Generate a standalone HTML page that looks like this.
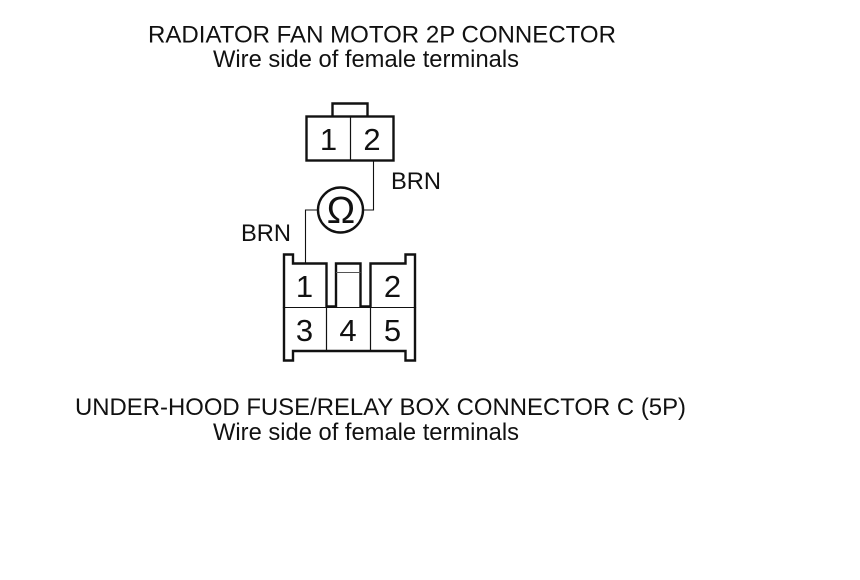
<!DOCTYPE html>
<html>
<head>
<meta charset="utf-8">
<style>
html,body{margin:0;padding:0;background:#fff;width:860px;height:580px;overflow:hidden}
svg{display:block}
text{font-family:"Liberation Sans",Arial,sans-serif;fill:#111}
</style>
</head>
<body>
<svg width="860" height="580" viewBox="0 0 860 580" xmlns="http://www.w3.org/2000/svg">
<rect width="860" height="580" fill="#fff"/>
<text x="148" y="42.600" font-size="24" textLength="468" lengthAdjust="spacingAndGlyphs">RADIATOR FAN MOTOR 2P CONNECTOR</text>
<text x="213" y="67" font-size="24" textLength="306" lengthAdjust="spacingAndGlyphs">Wire side of female terminals</text>
<text x="75" y="415" font-size="24" textLength="611" lengthAdjust="spacingAndGlyphs">UNDER-HOOD FUSE/RELAY BOX CONNECTOR C (5P)</text>
<text x="213" y="440" font-size="24" textLength="306" lengthAdjust="spacingAndGlyphs">Wire side of female terminals</text>

<g fill="none" stroke="#111">
<!-- top connector -->
<rect x="306.500" y="116.500" width="87" height="44" stroke-width="2.400"/>
<path d="M332.500 116V103.500H367.500V116" stroke-width="2.400"/>
<path d="M350.500 116V160" stroke-width="1.200"/>
<!-- wires -->
<path d="M373.500 161V210H362" stroke-width="1.100"/>
<path d="M318 210H305.500V264" stroke-width="1.100"/>
<circle cx="340.500" cy="210" r="22.500" stroke-width="2.400"/>
<!-- bottom connector -->
<path d="M284 307.500V254.500H293V263.500H326.500V307.500" stroke-width="2.400"/>
<path d="M415 307.500V254.500H405.500V263.500H370.500V307.500" stroke-width="2.400"/>
<path d="M284 307V360.500H293V351H405.500V360.500H415V307" stroke-width="2.400"/>
<path d="M284 307.500H415" stroke-width="1.100"/>
<path d="M326.500 307V351M370.500 307V351" stroke-width="1.200"/>
<path d="M336 307V263.500H360.500V307" stroke-width="2.400"/>
<path d="M336 272.500H360.500" stroke-width="1.100" stroke="#555"/>
<path d="M326.500 306.500H336M360.500 306.500H370.500" stroke-width="2.400"/>
</g>

<g font-size="31" text-anchor="middle">
<text x="328.500" y="150">1</text>
<text x="372" y="150">2</text>
<text x="304.500" y="297">1</text>
<text x="392.500" y="297">2</text>
<text x="304.500" y="341">3</text>
<text x="348" y="341">4</text>
<text x="392.500" y="341">5</text>
</g>
<text x="341" y="223" font-size="38" text-anchor="middle">Ω</text>
<text x="391" y="189" font-size="24" textLength="50" lengthAdjust="spacingAndGlyphs">BRN</text>
<text x="241" y="241" font-size="24" textLength="50" lengthAdjust="spacingAndGlyphs">BRN</text>
</svg>
</body>
</html>
